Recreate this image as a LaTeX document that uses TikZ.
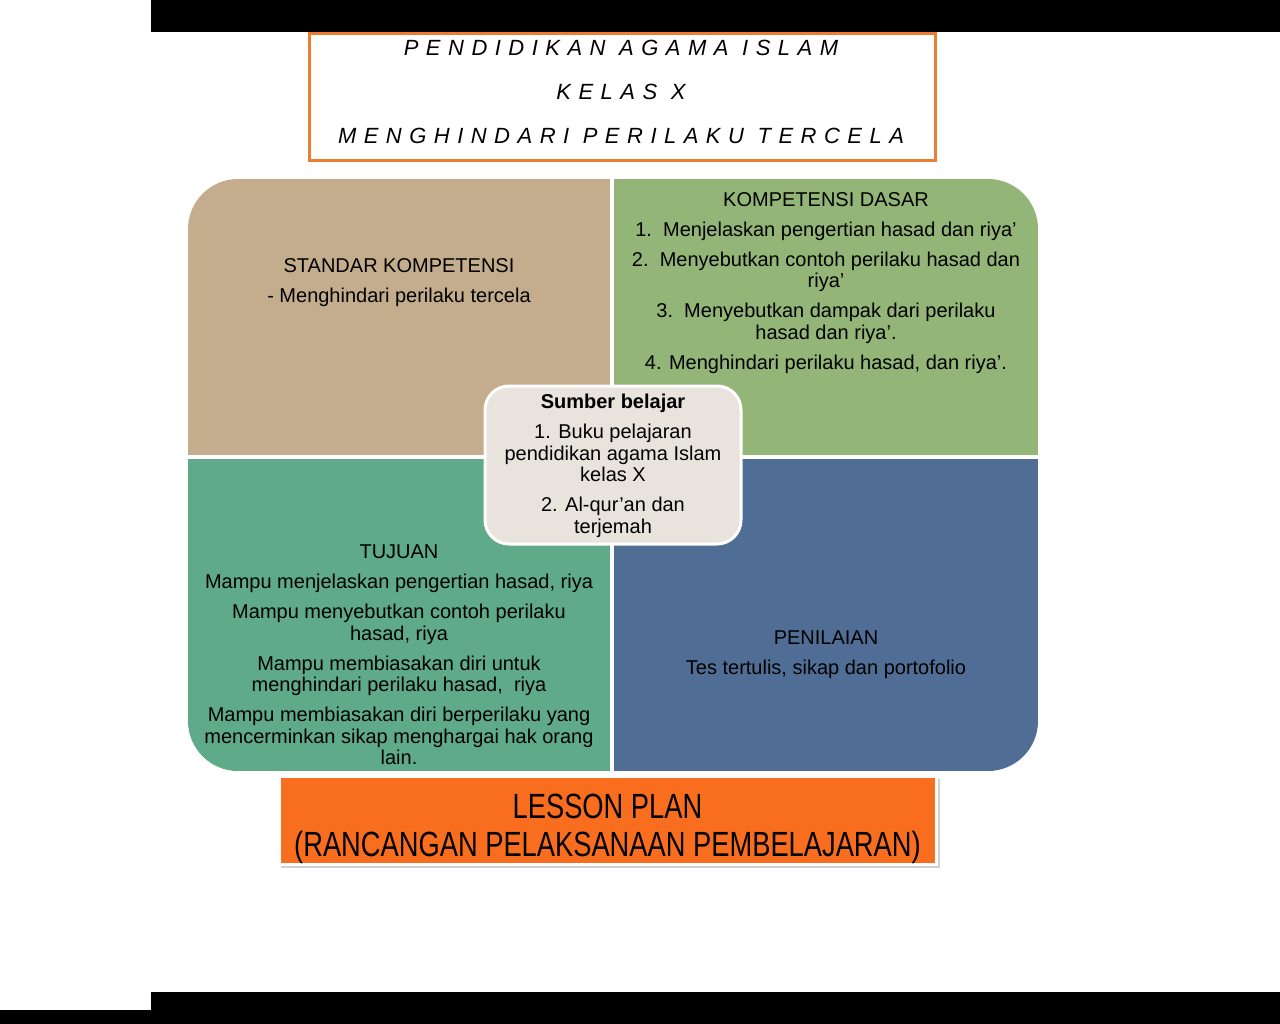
\documentclass[tikz,border=0pt]{standalone}
\usepackage{fontspec}
\setmainfont{Liberation Sans}
\newfontfamily\titlefont[LetterSpace=34]{Liberation Sans}
\newfontfamily\narrowfont[FakeStretch=0.78]{Liberation Sans}
\definecolor{sktan}{HTML}{C4AD8C}
\definecolor{kdgreen}{HTML}{93B678}
\definecolor{tjteal}{HTML}{5FAA89}
\definecolor{pnblue}{HTML}{506E95}
\definecolor{sbgray}{HTML}{E9E3DE}
\definecolor{lporange}{HTML}{F96E1E}
\definecolor{ttorange}{HTML}{ED7D31}
\tikzset{
  qtext/.style={align=center, text=black, font=\fontsize{20}{21.5}\selectfont},
  titleline/.style={font=\titlefont\itshape\fontsize{22}{26}\selectfont},
}
\begin{document}
\begin{tikzpicture}[x=1pt,y=-1pt]
\useasboundingbox (0,0) rectangle (1280,1024);
\fill[white] (0,0) rectangle (1280,1024);

%black bars
\fill[black] (151,0) rectangle (1280,32);
\fill[black] (151,992) rectangle (1280,1024);
\fill[black] (0,1010) rectangle (151,1024);

%title
\draw[ttorange,line width=3pt] (309.5,33.5) rectangle (935,161);
\node[titleline] (judul1) at (621,48) {PENDIDIKAN AGAMA ISLAM};
\node[titleline] (judul2) at (621,92) {KELAS X};
\node[titleline] (judul3) at (621,136) {MENGHINDARI PERILAKU TERCELA};

%four quarters
\begin{scope}
\clip[rounded corners=50pt] (188,179) rectangle (1038,771);
\fill[sktan] (188,179) rectangle (612,457);
\fill[kdgreen] (612,179) rectangle (1038,457);
\fill[tjteal] (188,457) rectangle (612,771);
\fill[pnblue] (612,457) rectangle (1038,771);
\end{scope}
\draw[white,line width=4pt] (612,175) -- (612,775);
\draw[white,line width=4pt] (184,457) -- (1042,457);

\node[qtext] (standar) at (399,282.5) {STANDAR KOMPETENSI\\[8.5pt]
- Menghindari perilaku tercela};

\node[qtext] (kd) at (826,283) {KOMPETENSI DASAR\\[8.5pt]
1.\ \ Menjelaskan pengertian hasad dan riya’\\[8.5pt]
2.\ \ Menyebutkan contoh perilaku hasad dan\\ riya’\\[8.5pt]
3.\ \ Menyebutkan dampak dari perilaku\\ hasad dan riya’.\\[8.5pt]
4. Menghindari perilaku hasad, dan riya’.};

\node[qtext] (tujuan) at (399,655) {TUJUAN\\[8.5pt]
Mampu menjelaskan pengertian hasad, riya\\[8.5pt]
Mampu menyebutkan contoh perilaku\\ hasad, riya\\[8.5pt]
Mampu membiasakan diri untuk\\ menghindari perilaku hasad,\ \ riya\\[8.5pt]
Mampu membiasakan diri berperilaku yang\\ mencerminkan sikap menghargai hak orang\\ lain.};

\node[qtext] (penilaian) at (826,655) {PENILAIAN\\[8.5pt]
Tes tertulis, sikap dan portofolio};

%sumber belajar
\draw[white,fill=sbgray,line width=3pt,rounded corners=24pt] (485,386) rectangle (741,544);
\node[qtext] (sumber) at (613,466) {\textbf{Sumber belajar}\\[8.5pt]
1. Buku pelajaran\\ pendidikan agama Islam\\ kelas X\\[8.5pt]
2. Al-qur’an dan\\ terjemah};

%lesson plan
\fill[black!30,opacity=0.6] (281,779) rectangle (940,868);
\draw[white,fill=lporange,line width=3pt] (279,776) rectangle (936,864);
\node[align=center,font=\narrowfont\fontsize{35}{38}\selectfont] (lessonplan) at (607.5,828.5)
  {LESSON PLAN\\(RANCANGAN PELAKSANAAN PEMBELAJARAN)};
\end{tikzpicture}
\end{document}
